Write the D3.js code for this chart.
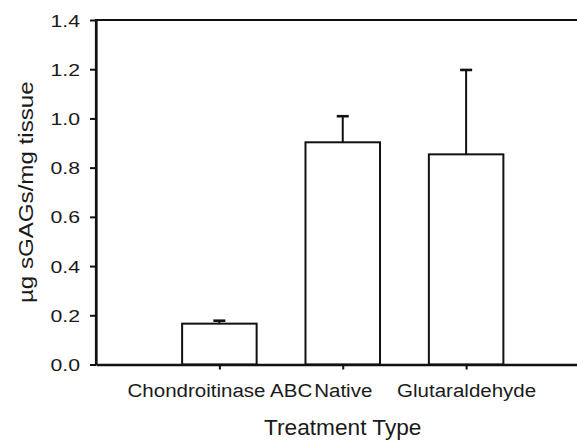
<!DOCTYPE html>
<html>
<head>
<meta charset="utf-8">
<script src="https://cdn.jsdelivr.net/npm/d3@7"></script>
<style>
  html, body { margin: 0; padding: 0; background: #ffffff; }
  svg { display: block; font-family: "Liberation Sans", Arial, sans-serif; }
</style>
</head>
<body>
<svg id="chart" width="577" height="441"></svg>
<script>
// ---- data ----
const categories = ["Chondroitinase ABC", "Native", "Glutaraldehyde"];
const means = [0.166, 0.903, 0.854];
const errors = [0.012, 0.106, 0.343];
const yTicks = [0.0, 0.2, 0.4, 0.6, 0.8, 1.0, 1.2, 1.4];
const xTitle = "Treatment Type";
const yTitle = "\u00b5g sGAGs/mg tissue";

// ---- layout ----
const W = 577, H = 441;
const pLeft = 96, pRight = 589.5, pTop = 20, pBottom = 364.5;

const svg = d3.select("#chart");
svg.append("rect").attr("width", W).attr("height", H).attr("fill", "#ffffff");

const x = d3.scalePoint().domain(categories).range([pLeft, pRight]).padding(1);
const y = d3.scaleLinear().domain([0, 1.4]).range([pBottom, pTop]);
const barW = x.step() * 0.604;

const ink = "#111111";

// bars
svg.append("g").selectAll("rect")
  .data(categories)
  .join("rect")
  .attr("x", d => x(d) - barW / 2)
  .attr("y", (d, i) => y(means[i]))
  .attr("width", barW)
  .attr("height", (d, i) => y(0) - y(means[i]))
  .attr("fill", "#ffffff")
  .attr("stroke", ink)
  .attr("stroke-width", 2);

// error bars (upper only)
const eg = svg.append("g");
categories.forEach((c, i) => {
  eg.append("line")
    .attr("x1", x(c)).attr("x2", x(c))
    .attr("y1", y(means[i])).attr("y2", y(means[i] + errors[i]))
    .attr("stroke", ink).attr("stroke-width", 2);
  eg.append("line")
    .attr("x1", x(c) - 6).attr("x2", x(c) + 6)
    .attr("y1", y(means[i] + errors[i])).attr("y2", y(means[i] + errors[i]))
    .attr("stroke", ink).attr("stroke-width", 2.6);
});

// frame (top line and right side, right is outside the view)
svg.append("path")
  .attr("d", `M${pLeft},${pBottom} L${pLeft},${pTop} L${pRight},${pTop} L${pRight},${pBottom}`)
  .attr("fill", "none").attr("stroke", ink).attr("stroke-width", 2.2);

// y axis
const yAxis = svg.append("g")
  .attr("transform", `translate(${pLeft},0)`)
  .call(d3.axisLeft(y).tickValues(yTicks).tickFormat(d3.format(".1f")).tickSize(6).tickSizeOuter(0));
yAxis.select(".domain").attr("stroke", ink).attr("stroke-width", 2.2);
yAxis.selectAll(".tick line").attr("stroke", ink).attr("stroke-width", 2);
yAxis.selectAll(".tick text")
  .attr("x", 0).attr("dy", "0.36em")
  .attr("transform", "translate(-16,0) scale(1.25,1)")
  .attr("fill", "#1a1a1a")
  .style("font-size", "17px")
  .style("font-family", "'Liberation Sans', Arial, sans-serif");

// x axis
const xAxis = svg.append("g")
  .attr("transform", `translate(0,${pBottom})`)
  .call(d3.axisBottom(x).tickSize(5).tickSizeOuter(0));
xAxis.select(".domain").attr("stroke", ink).attr("stroke-width", 2.6);
xAxis.selectAll(".tick line").attr("stroke", ink).attr("stroke-width", 2);
xAxis.selectAll(".tick text")
  .attr("y", 0).attr("dy", 0)
  .attr("transform", "translate(0,32.5) scale(1.08,1)")
  .attr("fill", "#1a1a1a")
  .style("font-size", "19px")
  .style("font-family", "'Liberation Sans', Arial, sans-serif");

// axis titles
svg.append("text")
  .attr("transform", `translate(${(pLeft + pRight) / 2},435) scale(1.03,1)`)
  .attr("text-anchor", "middle")
  .attr("fill", "#1a1a1a")
  .style("font-size", "22px")
  .text(xTitle);

svg.append("text")
  .attr("transform", `translate(33,${(pTop + pBottom) / 2}) rotate(-90) scale(1.15,1)`)
  .attr("text-anchor", "middle")
  .attr("fill", "#1a1a1a")
  .style("font-size", "21px")
  .text(yTitle);
</script>
</body>
</html>
